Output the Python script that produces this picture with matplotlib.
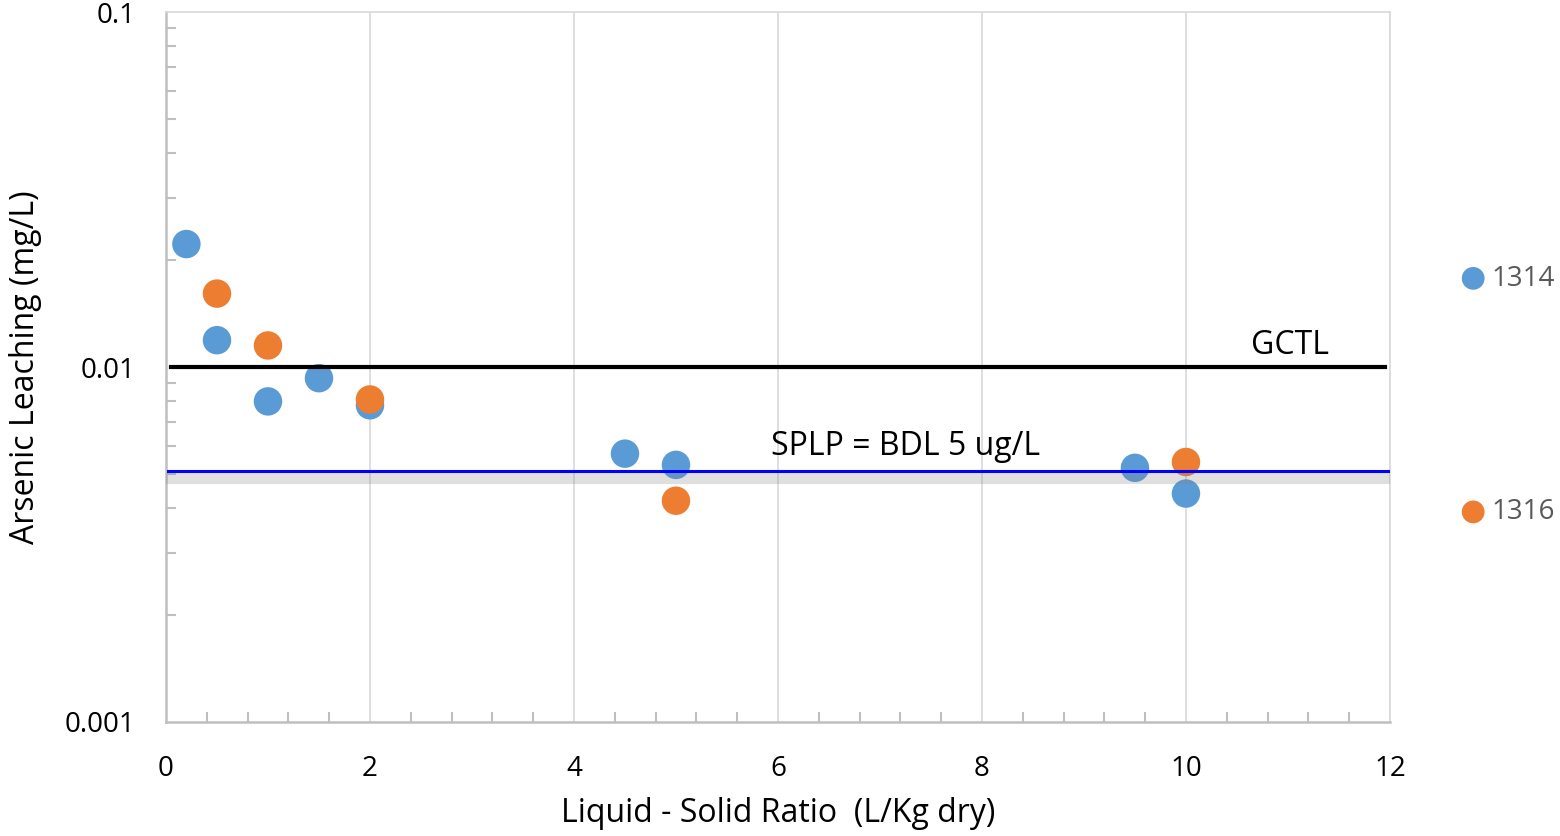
import numpy as np
import matplotlib
matplotlib.use("Agg")
import matplotlib.pyplot as plt
import matplotlib.patheffects as pe
from matplotlib.ticker import FixedLocator, NullFormatter, MultipleLocator

plt.rcParams['font.family'] = ['Open Sans', 'DejaVu Sans']

# leaching results, two test methods
x_1314 = [0.2, 0.5, 1.0, 1.5, 2.0, 4.5, 5.0, 9.5, 10.0]
y_1314 = [0.0222, 0.0119, 0.0080, 0.0093, 0.0078, 0.0057, 0.0053, 0.0052, 0.0044]
x_1316 = [0.5, 1.0, 2.0, 5.0, 10.0]
y_1316 = [0.0161, 0.0115, 0.0081, 0.0042, 0.0054]

gctl = 0.01        # groundwater cleanup target level (mg/L)
splp_bdl = 0.0051  # detection limit line

fig = plt.figure(figsize=(15.6, 8.36), dpi=100)
ax = fig.add_axes([0.1064, 0.1364, 0.7846, 0.8492])

ax.scatter(x_1314, y_1314, s=420, color='#5b9bd5', edgecolors='none', label='1314', zorder=3)
ax.scatter(x_1316, y_1316, s=420, color='#ed7d31', edgecolors='none', label='1316', zorder=3)

ax.plot([0.05, 11.95], [gctl, gctl], color='black', lw=3, zorder=4)
ax.plot([0.02, 12.02], [splp_bdl, splp_bdl], color='#0000ff', lw=2.2, zorder=4,
        path_effects=[pe.SimpleLineShadow(offset=(0, -5), shadow_color='gray', alpha=0.25, linewidth=8),
                      pe.Normal()])

ax.text(11.02, 0.0109, 'GCTL', fontsize=23, ha='center', va='baseline')
ax.text(7.25, 0.00565, 'SPLP = BDL 5 ug/L', fontsize=23, ha='center', va='baseline')

ax.set_yscale('log')
ax.set_xlim(0, 12)
ax.set_ylim(0.001, 0.1)
ax.set_yticks([0.001, 0.01, 0.1])
ax.set_yticklabels(['0.001', '0.01', '0.1'])
ax.yaxis.set_minor_locator(FixedLocator([k * 10.0 ** e for e in (-3, -2) for k in range(2, 10)]))
ax.yaxis.set_minor_formatter(NullFormatter())
ax.xaxis.set_major_locator(MultipleLocator(2))
ax.xaxis.set_minor_locator(MultipleLocator(0.4))

ax.grid(axis='x', which='major', color='#d9d9d9', lw=1.2)
ax.tick_params(which='major', length=0, labelsize=20)
ax.tick_params(axis='y', which='major', pad=22)
ax.tick_params(axis='x', which='major', pad=24)
ax.tick_params(which='minor', direction='in', length=7, color='#bfbfbf', width=1.5)

for s in ['top', 'right']:
    ax.spines[s].set_color('#d9d9d9')
    ax.spines[s].set_linewidth(1.2)
for s in ['left', 'bottom']:
    ax.spines[s].set_color('#bfbfbf')
    ax.spines[s].set_linewidth(1.8)

ax.set_xlabel('Liquid - Solid Ratio  (L/Kg dry)', fontsize=23, labelpad=10)
ax.set_ylabel('Arsenic Leaching (mg/L)', fontsize=23, labelpad=16)

leg = ax.legend(loc='center left', bbox_to_anchor=(0.931, 0.527), bbox_transform=fig.transFigure,
                borderaxespad=0, frameon=False, fontsize=20, labelspacing=7.4,
                handlelength=0.7, handletextpad=0.3, markerscale=0.8,
                labelcolor='#595959')

fig.savefig('out.png', dpi=100)
